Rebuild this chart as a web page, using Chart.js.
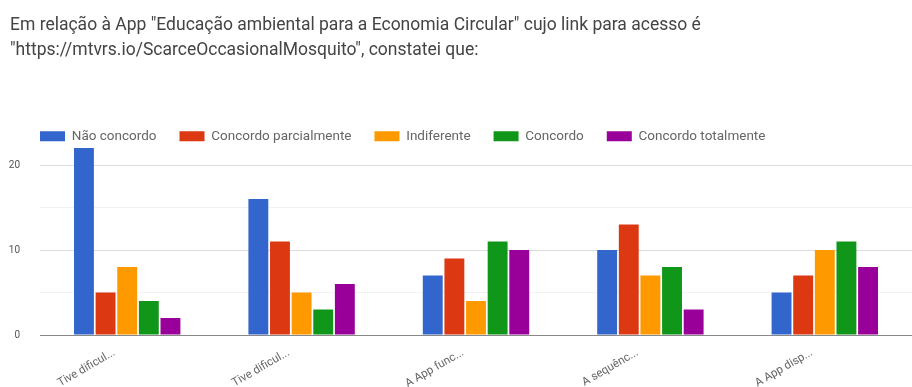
<!DOCTYPE html>
<html>
<head>
<meta charset="utf-8">
<script src="https://cdn.jsdelivr.net/npm/chart.js@4/dist/chart.umd.min.js"></script>
<style>
  html, body { margin: 0; padding: 0; background: #fff; }
  #wrap { position: relative; width: 912px; height: 387px; }
  #title {
    position: absolute; left: 10px; top: 12px;
    font: 17.5px Roboto, "Liberation Sans", Arial, sans-serif;
    line-height: 25px; color: #444; white-space: nowrap;
  }
  canvas { position: absolute; left: 0; top: 0; }
</style>
</head>
<body>
<div id="wrap">
  <canvas id="chart" width="912" height="387"></canvas>
  <div id="title">Em relação à App "Educação ambiental para a Economia Circular" cujo link para acesso é<br>"https://mtvrs.io/ScarceOccasionalMosquito", constatei que:</div>
</div>
<script>
// Statements about the app (x axis)
const categories = ['Tive dificul...', 'Tive dificul...', 'A App func...', 'A sequênc...', 'A App disp...'];

// Answer options (legend)
const seriesNames = ['Não concordo', 'Concordo parcialmente', 'Indiferente', 'Concordo', 'Concordo totalmente'];
const seriesColors = ['#3366CC', '#DC3912', '#FF9900', '#109618', '#990099'];

// Number of answers per option, one value per statement
const naoConcordo          = [22, 16, 7, 10, 5];
const concordoParcialmente = [5, 11, 9, 13, 7];
const indiferente          = [8, 5, 4, 7, 10];
const concordo             = [4, 3, 11, 8, 11];
const concordoTotalmente   = [2, 6, 10, 3, 8];

// Y axis ticks: labelled majors and unlabelled minors
const majorTicks = [0, 10, 20];
const minorTicks = [5, 15];

const seriesValues = [naoConcordo, concordoParcialmente, indiferente, concordo, concordoTotalmente];

const datasets = seriesNames.map((name, i) => ({
  label: name,
  data: seriesValues[i],
  backgroundColor: seriesColors[i],
  borderWidth: 0,
  categoryPercentage: 0.62,
  barPercentage: 0.92
}));

// Fixed-height legend band, and legend row lined up with the plot's left edge
const legendBand = {
  id: 'legendBand',
  afterInit(chart) {
    const lg = chart.legend;
    if (!lg) return;
    const fit = lg.fit.bind(lg);
    lg.fit = function () { fit(); this.height = 41.5; };
  },
  afterLayout(chart) {
    const lg = chart.legend;
    if (lg) { lg.left += 9; lg.right += 9; }
  }
};

const font = 'Roboto, "Liberation Sans", Arial, sans-serif';

new Chart(document.getElementById('chart'), {
  type: 'bar',
  data: { labels: categories, datasets },
  plugins: [legendBand],
  options: {
    responsive: false,
    animation: false,
    layout: { padding: { left: 8, right: 0, top: 106.5, bottom: 0 } },
    plugins: {
      tooltip: { enabled: false },
      legend: {
        position: 'top',
        align: 'start',
        labels: {
          boxWidth: 25,
          boxHeight: 10,
          padding: 23,
          color: '#666',
          font: { family: font, size: 13.5 }
        }
      }
    },
    scales: {
      x: {
        grid: { display: false, drawTicks: false },
        border: { display: false },
        ticks: {
          minRotation: 30,
          maxRotation: 30,
          padding: 11,
          labelOffset: -13,
          color: '#666',
          font: { family: font, size: 11.5 }
        },
        afterFit(s) { s.height = 52; }
      },
      y: {
        min: 0,
        max: 22,
        border: { display: false },
        afterBuildTicks(s) {
          s.ticks = majorTicks.concat(minorTicks).sort((a, b) => a - b).map(v => ({ value: v }));
        },
        afterFit(s) { s.width = 32; },
        grid: {
          drawTicks: false,
          lineWidth: 1,
          color(ctx) {
            const v = ctx.tick && ctx.tick.value;
            if (v === 0) return '#888';
            if (minorTicks.includes(v)) return '#f2f2f2';
            return '#dcdcdc';
          }
        },
        ticks: {
          padding: 20,
          color: '#555',
          font: { family: font, size: 10 },
          callback(v) { return majorTicks.includes(v) ? String(v) : ''; }
        }
      }
    }
  }
});
</script>
</body>
</html>
